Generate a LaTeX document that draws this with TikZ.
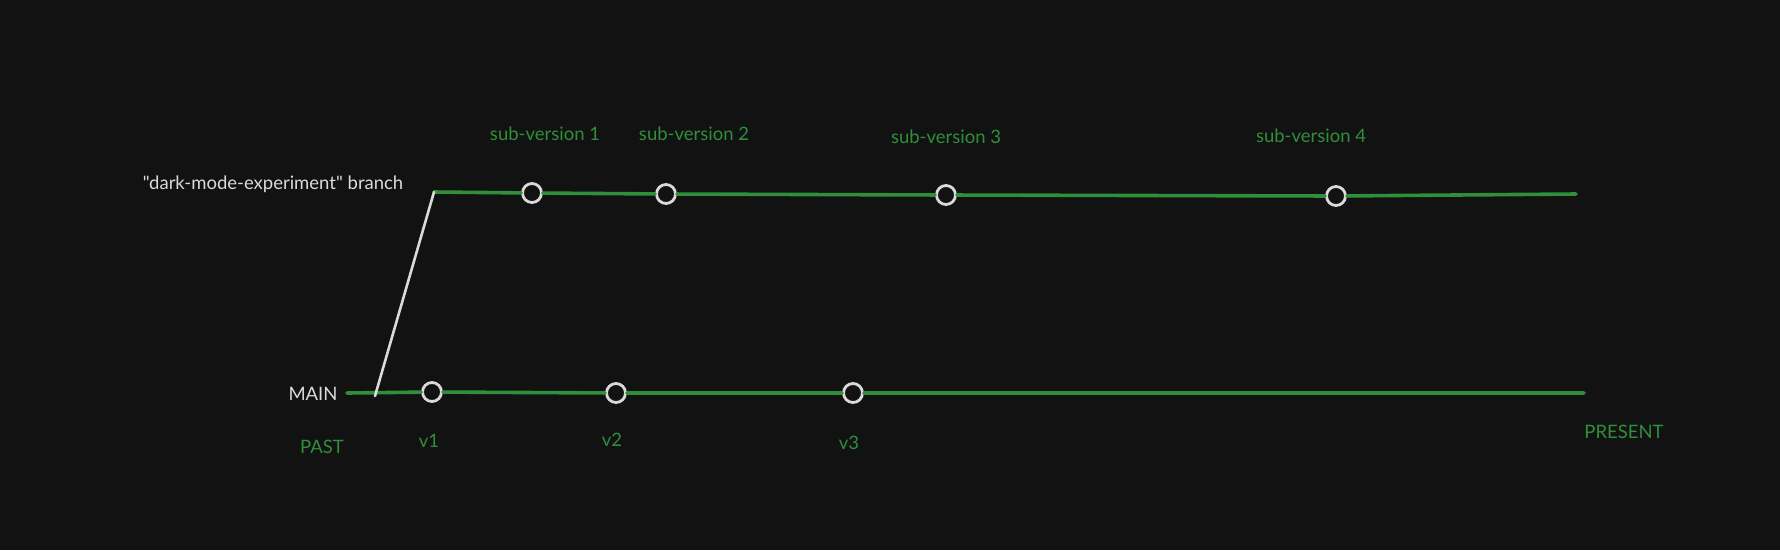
\documentclass[tikz,border=0pt]{standalone}
\usepackage{fontspec}
\setmainfont{Lato}
\newfontfamily\plainquotes{Lato}[Ligatures=TeXOff]
\definecolor{bgdark}{HTML}{121212}
\definecolor{gitgreen}{HTML}{2F8F3A}
\definecolor{chalk}{HTML}{DADADA}

\begin{document}
\begin{tikzpicture}[x=1pt,y=-1pt,
  commit/.style={circle, draw=chalk, fill=bgdark, line width=2.8pt, minimum size=19pt, inner sep=0pt},
  trackline/.style={gitgreen, line width=3.6pt, line cap=round},
  forkline/.style={chalk, line width=2.6pt, line cap=round},
  greenlbl/.style={text=gitgreen, font=\fontsize{18.5}{22}\selectfont},
  whitelbl/.style={text=chalk, font=\plainquotes\fontsize{18.5}{22}\selectfont}]
\useasboundingbox (0,0) rectangle (1780,550);
\fill[bgdark] (0,0) rectangle (1780,550);
% track ends
\coordinate (mainstart) at (347,393);
\coordinate (mainend) at (1584,393);
\coordinate (forkfoot) at (375,396);
\coordinate (branchstart) at (434,192);
\coordinate (branchend) at (1576,194);
% commits
\node[commit] (v1) at (432,392) {};
\node[commit] (v2) at (616,393) {};
\node[commit] (v3) at (853,393) {};
\node[commit] (s1) at (532,193) {};
\node[commit] (s2) at (666,194) {};
\node[commit] (s3) at (946,195) {};
\node[commit] (s4) at (1336,196) {};
% lines
\draw[trackline] (mainstart) -- (v1) -- (v2) -- (v3) -- (mainend);
\draw[trackline] (branchstart) -- (s1) -- (s2) -- (s3) -- (s4) -- (branchend);
\draw[forkline] (forkfoot) -- (branchstart);
% labels
\node[whitelbl] (branchlbl) at (273,184) {"dark-mode-experiment" branch};
\node[whitelbl] (mainlbl) at (313,394) {MAIN};
\node[greenlbl] (past) at (322,447) {PAST};
\node[greenlbl] (present) at (1624,432) {PRESENT};
\node[greenlbl] (v1lbl) at (429,441) {v1};
\node[greenlbl] (v2lbl) at (612,440) {v2};
\node[greenlbl] (v3lbl) at (849,443) {v3};
\node[greenlbl] (s1lbl) at (545,134) {sub-version 1};
\node[greenlbl] (s2lbl) at (694,134) {sub-version 2};
\node[greenlbl] (s3lbl) at (946,137) {sub-version 3};
\node[greenlbl] (s4lbl) at (1311,136) {sub-version 4};
\end{tikzpicture}
\end{document}
